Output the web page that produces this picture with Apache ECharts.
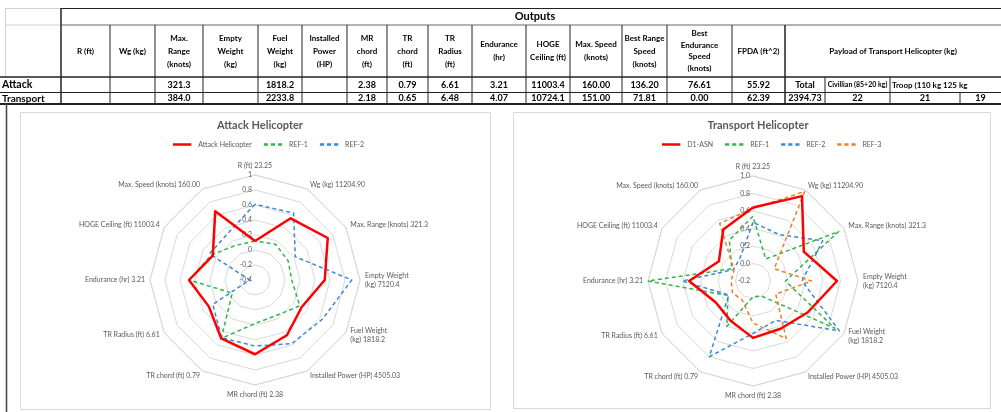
<!DOCTYPE html>
<html>
<head>
<meta charset="utf-8">
<script src="https://cdn.jsdelivr.net/npm/echarts@6/dist/echarts.min.js"></script>
<style>
  html, body { margin: 0; padding: 0; background: #fff; }
  #main { width: 1001px; height: 412px; }
</style>
</head>
<body>
<div id="main"></div>
<script>
// radar axes (same labels in both charts)
var axisNames = ['R (ft) 23.25', 'Wg (kg) 11204.90', 'Max. Range (knots) 321.3', 'Empty Weight\n(kg) 7120.4',
  'Fuel Weight\n(kg) 1818.2', 'Installed Power (HP) 4505.03', 'MR chord (ft) 2.38', 'TR chord (ft) 0.79',
  'TR Radius (ft) 6.61', 'Endurance (hr) 3.21', 'HOGE Ceiling (ft) 11003.4', 'Max. Speed (knots) 160.00'];

// attack helicopter chart (normalised values)
var attackHeli = [0.12, 0.55, 0.72, 0.53, 0.32, 0.45, 0.59, 0.50, 0.31, 0.48, 0.25, 0.66];
var attackRef1 = [0.12, 0.15, 0.11, 0.09, 0.29, 0.15, 0.18, 0.50, -0.05, 0.48, 0.27, 0.13];
var attackRef2 = [0.61, 0.63, 0.22, 0.89, 0.64, 0.58, 0.48, 0.49, 0.25, -0.33, 0.30, 0.32];

// transport helicopter chart
var transD1 = [0.64, 0.92, 0.47, 0.76, 0.52, 0.43, 0.45, 0.32, 0.29, 0.53, 0.25, 0.48];
var transRef1 = [0.54, 0.09, 0.93, 0.17, 0.88, 0.00, -0.02, 0.40, 0.13, 1.00, 0.08, 0.34];
var transRef2 = [0.47, 0.41, 0.72, 0.36, 0.94, 0.32, 0.40, 0.80, 0.12, 0.61, 0.06, 0.10];
var transRef3 = [0.63, 0.98, 0.08, 0.47, 0.10, 0.56, 0.28, 0.05, 0.07, 0.05, 0.05, 0.56];

// outputs table
var tableHeaders = ['R (ft)', 'Wg (kg)', 'Max.\nRange\n(knots)', 'Empty\nWeight\n(kg)', 'Fuel\nWeight\n(kg)',
  'Installed\nPower\n(HP)', 'MR\nchord\n(ft)', 'TR\nchord\n(ft)', 'TR\nRadius\n(ft)', 'Endurance\n(hr)',
  'HOGE\nCeiling (ft)', 'Max. Speed\n(knots)', 'Best Range\nSpeed\n(knots)', 'Best\nEndurance\nSpeed\n(knots)', 'FPDA (ft^2)'];
var attackRow = ['', '', '321.3', '', '1818.2', '', '2.38', '0.79', '6.61', '3.21', '11003.4', '160.00', '136.20', '76.61', '55.92'];
var transportRow = ['', '', '384.0', '', '2233.8', '', '2.18', '0.65', '6.48', '4.07', '10724.1', '151.00', '71.81', '0.00', '62.39'];
var payloadAttack = ['Total', 'Civillian (85+20 kg)', 'Troop (110 kg 125 kg'];
var payloadTransport = ['2394.73', '22', '21', '19'];

var RED = '#ff0000', GREEN = '#33b54a', BLUE = '#3a88d8', ORANGE = '#ed7d31';
var FONT = 'Lato, "Liberation Sans", sans-serif';
var solidIcon = 'path://M0,0h22v3h-22z';
var dashIcon = 'path://M0,0h5v3h-5zM8.5,0h5v3h-5zM17,0h5v3h-5z';

// echarts radar runs counter-clockwise, excel runs clockwise
function cw(arr) {
  return [arr[0]].concat(arr.slice(1).reverse());
}

function makeRadar(center, min, fmt) {
  var names = cw(axisNames);
  return {
    center: center,
    radius: 105,
    startAngle: 90,
    shape: 'polygon',
    splitNumber: Math.round((1 - min) / 0.2),
    indicator: names.map(function (n, i) {
      var ind = { name: n, min: min, max: 1 };
      if (i === 0) {
        ind.axisLabel = { show: true, color: '#595959', fontSize: 7, fontFamily: FONT, margin: 3, formatter: fmt };
      }
      return ind;
    }),
    axisName: { color: '#595959', fontSize: 7, fontFamily: FONT, lineHeight: 9 },
    nameGap: 5,
    axisLine: { show: false },
    axisTick: { show: false },
    axisLabel: { show: false },
    splitArea: { show: false },
    splitLine: { lineStyle: { color: '#d9d9d9', width: 1 } }
  };
}

function item(name, vals, color, dashed) {
  return {
    name: name,
    value: cw(vals),
    symbol: 'none',
    itemStyle: { color: color },
    lineStyle: { color: color, width: dashed ? 1.5 : 2.5, type: dashed ? [4, 3] : 'solid' }
  };
}

// table drawn with graphic elements
var colEdges = [61, 110, 155, 203, 258, 302, 347, 387, 428, 472, 526, 570, 622, 667, 732, 785];
var g = [];
function ln(x1, y1, x2, y2, c, w) {
  g.push({ type: 'line', silent: true, shape: { x1: x1, y1: y1, x2: x2, y2: y2 }, style: { stroke: c, lineWidth: w } });
}
function tx(t, x, y, size, align, lh) {
  g.push({ type: 'text', silent: true, x: x, y: y, style: {
    text: t, fill: '#000', fontSize: size, fontWeight: 'bold', fontFamily: FONT,
    align: align || 'center', textAlign: align || 'center', verticalAlign: 'middle', textVerticalAlign: 'middle', lineHeight: lh || size + 2
  } });
}
var DARK = '#222';
ln(5, 8.5, 61, 8.5, '#d0d0d0', 1);
ln(5, 25, 61, 25, '#d0d0d0', 1);
ln(5.5, 8, 5.5, 77, '#d0d0d0', 1);
ln(61, 8.5, 1001, 8.5, DARK, 1);
ln(61, 25, 1001, 25, '#666', 1);
ln(0, 77, 1001, 77, DARK, 1.5);
ln(0, 92.5, 1001, 92.5, DARK, 1);
ln(0, 104, 1001, 104, DARK, 2);
ln(61, 8, 61, 104, DARK, 1.5);
colEdges.slice(1).forEach(function (x) {
  ln(x, 25, x, 104, DARK, x === 785 ? 1.5 : 1);
});
ln(825, 77, 825, 104, DARK, 1);
ln(890, 77, 890, 104, DARK, 1);
ln(960, 92.5, 960, 104, DARK, 1);
ln(6.5, 104, 6.5, 412, '#404040', 1.5);
// chart panels
g.push({ type: 'rect', silent: true, shape: { x: 20.5, y: 112.5, width: 470, height: 297 }, style: { fill: 'none', stroke: '#d9d9d9', lineWidth: 1 } });
g.push({ type: 'rect', silent: true, shape: { x: 513.5, y: 112.5, width: 477, height: 296 }, style: { fill: 'none', stroke: '#d9d9d9', lineWidth: 1 } });

tx('Outputs', 535, 16.5, 11);
for (var i = 0; i < tableHeaders.length; i++) {
  var cx = (colEdges[i] + colEdges[i + 1]) / 2;
  var lines = tableHeaders[i].split('\n').length;
  tx(tableHeaders[i], cx, 51, 8, 'center', lines > 3 ? 11.5 : 13);
  tx(attackRow[i], cx, 85, 9);
  tx(transportRow[i], cx, 98.5, 9);
}
tx('Payload of Transport Helicopter (kg)', 893, 51, 8);
tx('Attack', 2, 85, 10.5, 'left');
tx('Transport', 2, 98.5, 10, 'left');
tx(payloadAttack[0], 805, 85, 9);
tx(payloadAttack[1], 857.5, 85, 7);
tx(payloadAttack[2], 892, 85, 8, 'left');
tx(payloadTransport[0], 805, 98.5, 9);
tx(payloadTransport[1], 857.5, 98.5, 9);
tx(payloadTransport[2], 925, 98.5, 9);
tx(payloadTransport[3], 980.5, 98.5, 9);

var chart = echarts.init(document.getElementById('main'), null, { renderer: 'canvas' });
var option = {
  backgroundColor: '#fff',
  animation: false,
  title: [
    { text: 'Attack Helicopter', left: 255, top: 115, textAlign: 'center',
      textStyle: { fontSize: 11, fontWeight: 'bold', color: '#595959', fontFamily: FONT } },
    { text: 'Transport Helicopter', left: 753, top: 115, textAlign: 'center',
      textStyle: { fontSize: 11, fontWeight: 'bold', color: '#595959', fontFamily: FONT } }
  ],
  legend: [
    { left: 168, top: 136, itemWidth: 22, itemHeight: 2.5, itemGap: 12,
      textStyle: { fontSize: 7, color: '#595959', fontFamily: FONT },
      data: [{ name: 'Attack Helicopter', icon: solidIcon }, { name: 'REF-1', icon: dashIcon }, { name: 'REF-2', icon: dashIcon }] },
    { left: 657, top: 136, itemWidth: 22, itemHeight: 2.5, itemGap: 12,
      textStyle: { fontSize: 7, color: '#595959', fontFamily: FONT },
      data: [{ name: 'D1-ASN', icon: solidIcon }, { name: 'REF-1', icon: dashIcon }, { name: 'REF-2', icon: dashIcon }, { name: 'REF-3', icon: dashIcon }] }
  ],
  radar: [
    makeRadar([255, 280], -0.4, function (v) { return String(Math.round(v * 10) / 10); }),
    makeRadar([753, 281], -0.2, function (v) { return (Math.round(v * 10) / 10).toFixed(1); })
  ],
  series: [
    { type: 'radar', radarIndex: 0, data: [
      item('REF-1', attackRef1, GREEN, true),
      item('REF-2', attackRef2, BLUE, true),
      item('Attack Helicopter', attackHeli, RED, false)
    ] },
    { type: 'radar', radarIndex: 1, data: [
      item('REF-1', transRef1, GREEN, true),
      item('REF-2', transRef2, BLUE, true),
      item('REF-3', transRef3, ORANGE, true),
      item('D1-ASN', transD1, RED, false)
    ] }
  ],
  graphic: { elements: g }
};
chart.setOption(option);
</script>
</body>
</html>
